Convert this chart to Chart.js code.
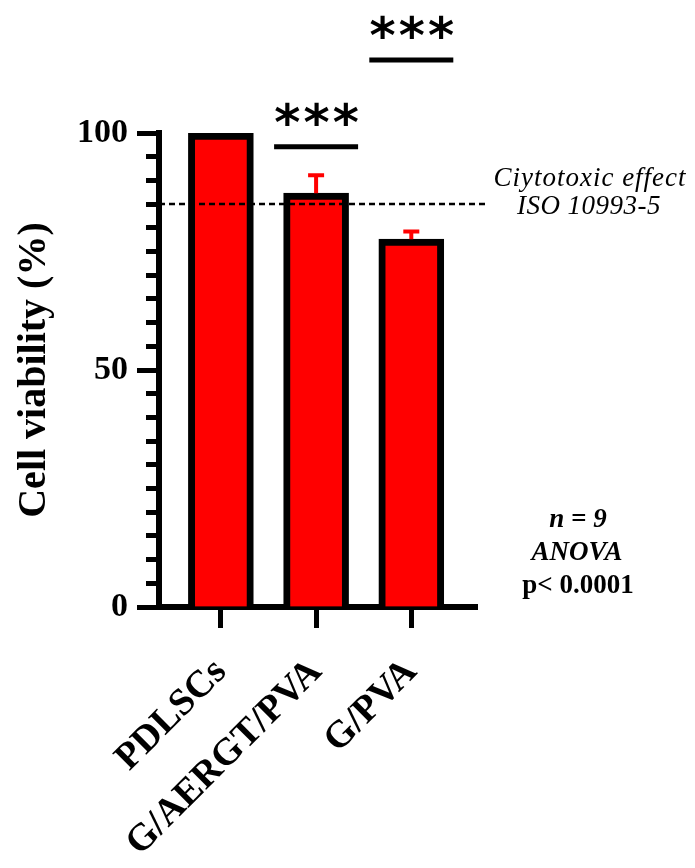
<!DOCTYPE html>
<html><head><meta charset="utf-8">
<script src="https://cdn.jsdelivr.net/npm/chart.js@4.4.1/dist/chart.umd.min.js"></script>
<style>html,body{margin:0;padding:0;background:#fff;} canvas{display:block;}</style>
</head><body>
<canvas id="c" width="695" height="868"></canvas>
<script>
// ---- data ----
const categories = ['PDLSCs', 'G/AERGT/PVA', 'G/PVA'];
const viability = [100, 87.3, 77.6];
const errorUp = [0, 3.8, 1.6];
const yMajorTicks = [0, 50, 100];
const thresholdValue = 85;
const thresholdLabel = ['Ciytotoxic effect', 'ISO 10993-5'];
const sigLabels = ['', '***', '***'];
const sigLevels = [null, 97.1, 115.4];
const notes = ['n = 9', 'ANOVA', 'p< 0.0001'];

const SERIF = "'Liberation Serif', 'Times New Roman', serif";

const annotations = {
  id: 'annotations',
  afterDatasetsDraw(chart) {
    const {ctx, chartArea} = chart;
    const xs = chart.scales.x, ys = chart.scales.y;
    ctx.save();
    ctx.strokeStyle = '#ff0000';
    ctx.lineWidth = 4;
    viability.forEach((v, i) => {
      if (!errorUp[i]) return;
      const x = xs.getPixelForValue(i);
      const y0 = ys.getPixelForValue(v);
      const y1 = ys.getPixelForValue(v + errorUp[i]);
      ctx.beginPath();
      ctx.moveTo(x, y0); ctx.lineTo(x, y1);
      ctx.moveTo(x - 8, y1); ctx.lineTo(x + 8, y1);
      ctx.stroke();
    });
    const ty = ys.getPixelForValue(thresholdValue);
    ctx.strokeStyle = '#000';
    ctx.lineWidth = 2.5;
    ctx.setLineDash([6, 4]);
    ctx.beginPath();
    ctx.moveTo(chartArea.left, ty); ctx.lineTo(chartArea.right + 8, ty);
    ctx.stroke();
    ctx.setLineDash([]);
    ctx.restore();
  },
  afterDraw(chart) {
    const {ctx} = chart;
    const xs = chart.scales.x, ys = chart.scales.y;
    ctx.save();
    sigLabels.forEach((lab, i) => {
      if (!lab) return;
      const x = xs.getPixelForValue(i);
      const y = ys.getPixelForValue(sigLevels[i]);
      ctx.strokeStyle = '#000';
      ctx.lineWidth = 5;
      ctx.beginPath();
      ctx.moveTo(x - 42, y); ctx.lineTo(x + 42, y);
      ctx.stroke();
      ctx.fillStyle = '#000';
      ctx.font = "bold 50px 'DejaVu Sans'";
      ctx.letterSpacing = '3px';
      ctx.textAlign = 'center';
      ctx.textBaseline = 'middle';
      ctx.fillText(lab, x + 2, y - 20);
      ctx.letterSpacing = '0px';
    });
    const ty = ys.getPixelForValue(thresholdValue);
    ctx.fillStyle = '#000';
    ctx.textAlign = 'center';
    ctx.textBaseline = 'middle';
    ctx.font = 'italic 27px ' + SERIF;
    ctx.letterSpacing = '1px';
    ctx.fillText(thresholdLabel[0], 590, ty - 25);
    ctx.letterSpacing = '0.5px';
    ctx.fillText(thresholdLabel[1], 589, ty + 3);
    ctx.letterSpacing = '0px';
    ctx.font = 'italic bold 27px ' + SERIF;
    ctx.fillText(notes[0], 578, 520);
    ctx.fillText(notes[1], 577, 553);
    ctx.font = 'bold 27px ' + SERIF;
    ctx.fillText(notes[2], 578, 586);
    ctx.restore();
  }
};

new Chart(document.getElementById('c'), {
  type: 'bar',
  data: {
    datasets: [{
      data: categories.map((c, i) => ({x: i, y: viability[i]})),
      backgroundColor: '#ff0000',
      borderColor: '#000000',
      borderWidth: 7,
      borderSkipped: 'start',
      barThickness: 65,
      xAxisID: 'x',
      yAxisID: 'y'
    }]
  },
  options: {
    responsive: false,
    animation: false,
    devicePixelRatio: 1,
    layout: {padding: {top: 133, right: 218, left: 0, bottom: 0}},
    plugins: {legend: {display: false}, tooltip: {enabled: false}},
    scales: {
      x: {
        type: 'linear', min: -0.65, max: 2.69, z: 1, offset: false,
        afterFit(s) { s.height = 261; },
        afterBuildTicks(s) { s.ticks = categories.map((c, i) => ({value: i})); },
        ticks: {
          callback: (v) => categories[v],
          autoSkip: false, maxRotation: 45, minRotation: 45, padding: 22,
          color: '#000', font: {family: SERIF, weight: 'bold', size: 38}
        },
        grid: {offset: false, drawOnChartArea: false, tickLength: 21, tickWidth: 5, tickColor: '#000', color: '#000'},
        border: {width: 6, color: '#000'}
      },
      y: {
        position: 'left', min: 0, max: 100, weight: 1,
        afterFit(s) { s.width = 159; },
        afterBuildTicks(s) { s.ticks = yMajorTicks.map(v => ({value: v})); },
        ticks: {color: '#000', padding: 9, font: {family: SERIF, weight: 'bold', size: 34}},
        title: {display: true, text: 'Cell viability (%)', color: '#000', padding: {top: 11, bottom: 0},
                font: {family: SERIF, weight: 'bold', size: 40}},
        grid: {drawOnChartArea: false, tickLength: 22, tickWidth: 5, tickColor: '#000', color: '#000'},
        border: {width: 6, color: '#000'}
      },
      yMinor: {
        position: 'left', min: 0, max: 100, weight: 0,
        afterFit(s) { s.width = 0; },
        ticks: {stepSize: 5, display: false},
        grid: {drawOnChartArea: false, tickLength: 13, tickWidth: 5, tickColor: '#000', color: '#000'},
        border: {display: false}
      }
    }
  },
  plugins: [annotations]
});
</script>
</body></html>
